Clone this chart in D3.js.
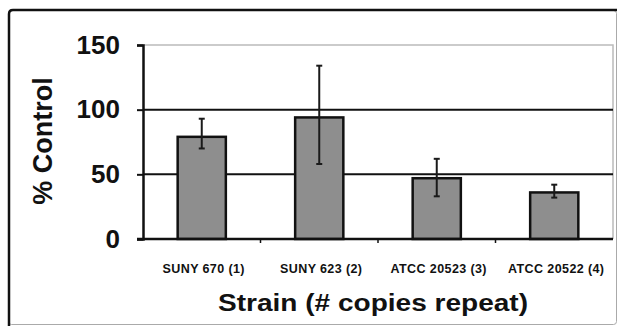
<!DOCTYPE html>
<html lang="en">
<head>
    <meta charset="UTF-8">
    <title>% Control by strain</title>
    <script src="https://d3js.org/d3.v7.min.js"></script>
    <style>
        body { margin: 0; background: #fff; }
        text { font-family: "Liberation Sans", Arial, sans-serif; font-weight: bold; fill: #111; }
    </style>
</head>
<body>
    <div id="chart"></div>
    <script>
        // values
        const strains = ["SUNY 670 (1)", "SUNY 623 (2)", "ATCC 20523 (3)", "ATCC 20522 (4)"];
        const percentControl = [79, 94, 47, 36];
        const errTop = [93, 134, 62, 42];
        const errBottom = [70, 58, 33, 32];
        const yTicks = [0, 50, 100, 150];

        const width = 619, height = 326;
        const plot = { left: 143, right: 613, top: 45, bottom: 239 };

        const svg = d3.select("#chart").append("svg")
            .attr("width", width)
            .attr("height", height);

        // outer frame: grey on right/bottom, black on left/top
        svg.append("rect")
            .attr("x", 8.5).attr("y", 10.5)
            .attr("width", 608).attr("height", 314)
            .attr("rx", 3)
            .attr("fill", "none")
            .attr("stroke", "#aaa")
            .attr("stroke-width", 1);
        svg.append("path")
            .attr("d", "M9,326 V14 Q9,10 13,10 H617")
            .attr("fill", "none")
            .attr("stroke", "#111")
            .attr("stroke-width", 2.5);

        const x = d3.scaleBand()
            .domain(strains)
            .range([plot.left, plot.right])
            .paddingInner(0.59)
            .paddingOuter(0.295);

        const y = d3.scaleLinear()
            .domain([0, 150])
            .range([plot.bottom, plot.top]);

        // plot area border (top + right), light grey
        svg.append("path")
            .attr("d", `M${plot.left},${y(150)} H${plot.right} V${y(0)}`)
            .attr("fill", "none")
            .attr("stroke", "#bbb")
            .attr("stroke-width", 1.5);

        // dark gridlines
        svg.append("g")
            .selectAll("line")
            .data(yTicks.filter(d => d > 0 && d < 150))
            .join("line")
            .attr("x1", plot.left).attr("x2", plot.right)
            .attr("y1", d => y(d)).attr("y2", d => y(d))
            .attr("stroke", "#111")
            .attr("stroke-width", 2);

        // bars
        svg.append("g")
            .selectAll("rect")
            .data(strains)
            .join("rect")
            .attr("x", d => x(d))
            .attr("y", (d, i) => y(percentControl[i]))
            .attr("width", x.bandwidth())
            .attr("height", (d, i) => y(0) - y(percentControl[i]))
            .attr("fill", "#8e8e8e")
            .attr("stroke", "#111")
            .attr("stroke-width", 2.5);

        // error bars
        const eb = svg.append("g")
            .selectAll("g")
            .data(strains)
            .join("g")
            .attr("stroke", "#1a1a1a")
            .attr("stroke-width", 2);
        eb.append("line")
            .attr("x1", d => x(d) + x.bandwidth() / 2)
            .attr("x2", d => x(d) + x.bandwidth() / 2)
            .attr("y1", (d, i) => y(errTop[i]))
            .attr("y2", (d, i) => y(errBottom[i]));
        eb.append("line")
            .attr("x1", d => x(d) + x.bandwidth() / 2 - 3)
            .attr("x2", d => x(d) + x.bandwidth() / 2 + 3)
            .attr("y1", (d, i) => y(errTop[i]))
            .attr("y2", (d, i) => y(errTop[i]));
        eb.append("line")
            .attr("x1", d => x(d) + x.bandwidth() / 2 - 3)
            .attr("x2", d => x(d) + x.bandwidth() / 2 + 3)
            .attr("y1", (d, i) => y(errBottom[i]))
            .attr("y2", (d, i) => y(errBottom[i]));

        // y axis
        const yAxis = svg.append("g")
            .attr("transform", `translate(${plot.left},0)`)
            .call(d3.axisLeft(y).tickValues(yTicks).tickSize(6).tickPadding(17));
        yAxis.select(".domain").attr("stroke", "#111").attr("stroke-width", 2.5);
        yAxis.selectAll(".tick line").attr("stroke", "#111").attr("stroke-width", 2);
        yAxis.selectAll(".tick text")
            .attr("fill", "#111")
            .style("font-size", "26px")
            .style("font-family", "'Liberation Sans', Arial, sans-serif")
            .style("font-weight", "bold");

        // x axis: ticks sit on category boundaries
        const xAxisG = svg.append("g")
            .attr("transform", `translate(0,${plot.bottom})`);
        xAxisG.append("line")
            .attr("x1", plot.left - 6).attr("x2", plot.right)
            .attr("stroke", "#111")
            .attr("stroke-width", 2.5);
        xAxisG.selectAll("line.tk")
            .data(strains.slice(1))
            .join("line")
            .attr("class", "tk")
            .attr("x1", d => x(d) - x.step() * x.paddingInner() / 2)
            .attr("x2", d => x(d) - x.step() * x.paddingInner() / 2)
            .attr("y1", 0).attr("y2", 4)
            .attr("stroke", "#111")
            .attr("stroke-width", 1.5);
        xAxisG.selectAll("text")
            .data(strains)
            .join("text")
            .attr("x", d => x(d) + x.bandwidth() / 2 + 2)
            .attr("y", 34)
            .attr("text-anchor", "middle")
            .style("font-size", "12.5px")
            .style("letter-spacing", "0.4px")
            .text(d => d);

        // axis titles
        svg.append("text")
            .attr("transform", "translate(52,141) rotate(-90)")
            .attr("text-anchor", "middle")
            .style("font-size", "27px")
            .text("% Control");

        svg.append("text")
            .attr("x", 373)
            .attr("y", 311)
            .attr("text-anchor", "middle")
            .attr("textLength", 310)
            .attr("lengthAdjust", "spacingAndGlyphs")
            .style("font-size", "23px")
            .text("Strain (# copies repeat)");
    </script>
</body>
</html>
